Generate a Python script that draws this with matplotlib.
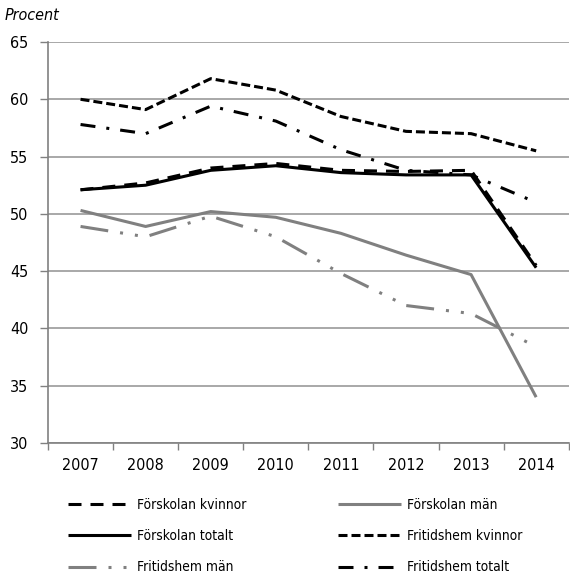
import matplotlib
matplotlib.use("Agg")
import matplotlib.pyplot as plt
from matplotlib import font_manager

# pick a narrow/condensed font if one is installed
ttf = font_manager.fontManager.ttflist
choice = None
for key in ['LiberationSansNarrow-Regular', 'DejaVuSansCondensed.ttf', 'Condensed-Regular', 'Narrow']:
    for f in ttf:
        base = f.fname.split('/')[-1]
        if key in base and f.style == 'normal' and f.weight in (400, 'normal', 'regular'):
            choice = f
            break
    if choice:
        break

if choice is not None:
    FONT = choice.name
    plt.rcParams['font.family'] = [FONT, 'DejaVu Sans']
    plt.rcParams['font.stretch'] = choice.stretch
    narrow = 'Narrow' in choice.fname
    TICK_FS = 12.5 if narrow else 11.5
    LEG_FS = 11.5 if narrow else 9.9
else:
    plt.rcParams['font.family'] = ['Liberation Sans', 'DejaVu Sans']
    TICK_FS = 11
    LEG_FS = 9.6

plt.rcParams['lines.scale_dashes'] = False

years = ['2007', '2008', '2009', '2010', '2011', '2012', '2013', '2014']
forskolan_kvinnor = [52.1, 52.7, 54.0, 54.4, 53.8, 53.7, 53.8, 45.5]
forskolan_totalt = [52.1, 52.5, 53.8, 54.2, 53.6, 53.4, 53.4, 45.3]
forskolan_man = [50.3, 48.9, 50.2, 49.7, 48.3, 46.4, 44.7, 34.0]
fritidshem_kvinnor = [60.0, 59.1, 61.8, 60.8, 58.5, 57.2, 57.0, 55.5]
fritidshem_totalt = [57.8, 57.0, 59.4, 58.1, 55.6, 53.8, 53.4, 51.0]
fritidshem_man = [48.9, 48.0, 49.8, 48.0, 44.8, 42.0, 41.3, 38.4]

GRAY = '#808080'
LW = 2.2
px = 0.72  # points per pixel at dpi 100

fig = plt.figure(figsize=(5.70, 5.78), dpi=100)
ax = fig.add_axes([48/570, 1-443/578, (568.7-48)/570, (443-42)/578])

x = list(range(len(years)))
styles = {
    'Förskolan kvinnor': dict(color='black', dashes=(13*px, 9*px)),
    'Förskolan män': dict(color=GRAY, linestyle='-'),
    'Förskolan totalt': dict(color='black', linestyle='-'),
    'Fritidshem kvinnor': dict(color='black', dashes=(9*px, 4*px)),
    'Fritidshem män': dict(color=GRAY, dashes=(28*px, 12*px, 3*px, 12*px, 3*px, 12*px)),
    'Fritidshem totalt': dict(color='black', dashes=(15*px, 11*px, 3*px, 11*px)),
}
series = {
    'Förskolan kvinnor': forskolan_kvinnor,
    'Förskolan män': forskolan_man,
    'Förskolan totalt': forskolan_totalt,
    'Fritidshem kvinnor': fritidshem_kvinnor,
    'Fritidshem män': fritidshem_man,
    'Fritidshem totalt': fritidshem_totalt,
}
draw_order = ['Förskolan män', 'Fritidshem män', 'Förskolan totalt', 'Förskolan kvinnor',
              'Fritidshem totalt', 'Fritidshem kvinnor']
lines = {}
for name in draw_order:
    ln, = ax.plot(x, series[name], lw=LW, solid_capstyle='butt', dash_capstyle='butt',
                  label=name, **styles[name])
    lines[name] = ln

ax.set_xlim(-0.5, len(years) - 0.5)
ax.set_ylim(30, 65)
ax.set_yticks(range(30, 66, 5))
ax.set_xticks(x)
ax.set_xticklabels(years)
ax.set_xticks([i - 0.5 for i in range(len(years) + 1)], minor=True)
ax.tick_params(axis='x', which='major', length=0, labelsize=TICK_FS, pad=11)
ax.tick_params(axis='x', which='minor', length=5, color=GRAY, width=1)
ax.tick_params(axis='y', length=6, color=GRAY, width=1, labelsize=TICK_FS, pad=8)
ax.grid(axis='y', color='#999999', lw=1.2)
ax.set_axisbelow(True)
for s in ['top', 'right']:
    ax.spines[s].set_visible(False)
for s in ['left', 'bottom']:
    ax.spines[s].set_color(GRAY)
    ax.spines[s].set_linewidth(1.2)

fig.text(5/570, 1-15/578, 'Procent', style='italic', fontsize=TICK_FS, va='center', ha='left')

col1 = ['Förskolan kvinnor', 'Förskolan totalt', 'Fritidshem män']
col2 = ['Förskolan män', 'Fritidshem kvinnor', 'Fritidshem totalt']
common = dict(frameon=False, fontsize=LEG_FS, handlelength=63*px/LEG_FS, handletextpad=0.45,
              labelspacing=1.25, borderpad=0, borderaxespad=0, loc='upper left')
leg1 = fig.legend([lines[n] for n in col1], col1, bbox_to_anchor=(68/570, 1-498/578), **common)
leg2 = fig.legend([lines[n] for n in col2], col2, bbox_to_anchor=(338/570, 1-498/578), **common)

fig.savefig('out.png', dpi=100)
